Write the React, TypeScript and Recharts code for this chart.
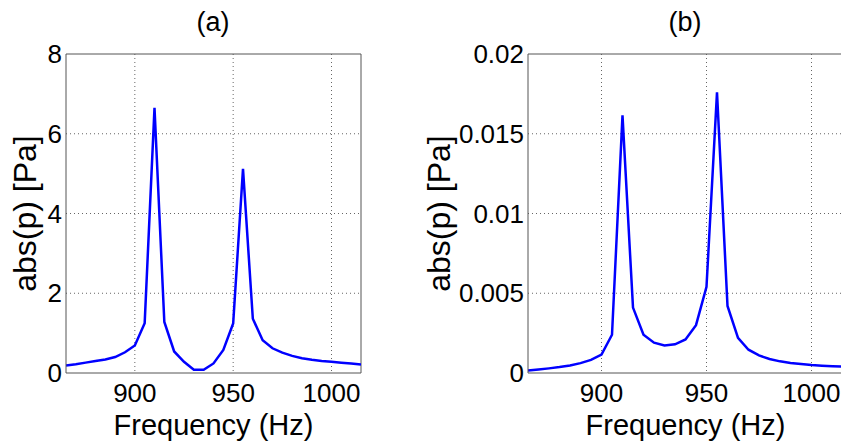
import { LineChart, Line, XAxis, YAxis, CartesianGrid, ReferenceLine } from "recharts";

const freq = [
  865, 870, 875, 880, 885, 890, 895, 900, 905, 910, 915, 920, 925, 930, 935, 940,
  945, 950, 955, 960, 965, 970, 975, 980, 985, 990, 995, 1000, 1005, 1010, 1015,
];

// (a) abs(p) [Pa]
const pA = [
  0.19, 0.22, 0.26, 0.3, 0.34, 0.4, 0.52, 0.69, 1.25, 6.65, 1.28, 0.54, 0.28, 0.08,
  0.08, 0.24, 0.58, 1.24, 5.12, 1.36, 0.82, 0.62, 0.51, 0.43, 0.37, 0.33, 0.3, 0.28,
  0.26, 0.24, 0.21,
];

// (b) abs(p) [Pa]
const pB = [
  0.00015, 0.00022, 0.00029, 0.00037, 0.00047, 0.00062, 0.00082, 0.00115, 0.0024,
  0.01615, 0.0041, 0.0024, 0.0019, 0.00173, 0.0018, 0.0021, 0.003, 0.0054, 0.0176,
  0.0042, 0.0022, 0.00146, 0.0011, 0.00088, 0.00073, 0.00063, 0.00056, 0.0005,
  0.00046, 0.00043, 0.0004,
];

const xTicks = [900, 950, 1000];
const xMin = 865;
const xMax = 1015;
const yTicksA = [0, 2, 4, 6, 8];
const yTicksB = [0, 0.005, 0.01, 0.015, 0.02];

const dataA = freq.map((f, i) => ({ f, p: pA[i] }));
const dataB = freq.map((f, i) => ({ f, p: pB[i] }));

const font = "Liberation Sans, Arial, sans-serif";
const axisColor = "#555";
const tickStyle = { fill: "#000", fontSize: 26, fontFamily: font };
const xLabelStyle = { fill: "#000", fontSize: 29, fontFamily: font, textAnchor: "middle" as const };
const yLabelStyle = { fill: "#000", fontSize: 32, fontFamily: font, textAnchor: "middle" as const };

type PanelProps = {
  data: { f: number; p: number }[];
  yTicks: number[];
  yMax: number;
  yWidth: number;
  width: number;
  right: number;
  yLabelX: number;
};

const Panel = ({ data, yTicks, yMax, yWidth, width, right, yLabelX }: PanelProps) => (
  <LineChart
    width={width}
    height={441}
    data={data}
    margin={{ top: 54, right, bottom: 0, left: 0 }}
  >
    <CartesianGrid
      stroke="#666"
      strokeDasharray="1 3"
      horizontalValues={yTicks.slice(1, -1)}
      verticalValues={xTicks}
    />
    <XAxis
      dataKey="f"
      type="number"
      domain={[xMin, xMax]}
      ticks={xTicks}
      allowDataOverflow
      height={68}
      stroke={axisColor}
      tickLine={false}
      tickSize={0}
      tickMargin={11}
      tick={tickStyle}
      label={{ value: "Frequency (Hz)", position: "insideBottom", offset: 6, style: xLabelStyle }}
    />
    <YAxis
      type="number"
      domain={[0, yMax]}
      ticks={yTicks}
      width={yWidth}
      stroke={axisColor}
      tickLine={false}
      tickSize={0}
      tickMargin={4}
      tick={tickStyle}
      label={{ value: "abs(p) [Pa]", angle: -90, position: "insideLeft", offset: yLabelX, style: yLabelStyle }}
    />
    {/* box: top and right edges */}
    <ReferenceLine y={yMax} stroke={axisColor} strokeWidth={1} />
    <ReferenceLine x={xMax} stroke={axisColor} strokeWidth={1} />
    <Line
      type="linear"
      dataKey="p"
      stroke="#0000ff"
      strokeWidth={2.5}
      dot={false}
      isAnimationActive={false}
    />
  </LineChart>
);

const titleStyle = {
  position: "absolute" as const,
  top: 7,
  fontFamily: font,
  fontSize: 27,
  textAlign: "center" as const,
  width: 100,
};

export default function App() {
  return (
    <div
      style={{
        position: "absolute",
        left: 0,
        top: 0,
        width: 841,
        height: 441,
        overflow: "hidden",
        background: "#fff",
      }}
    >
      <div style={{ position: "absolute", left: 0, top: 0 }}>
        <Panel data={dataA} yTicks={yTicksA} yMax={8} yWidth={66} width={420} right={59} yLabelX={25} />
      </div>
      <div style={{ position: "absolute", left: 420, top: 0 }}>
        <Panel data={dataB} yTicks={yTicksB} yMax={0.02} yWidth={108} width={423} right={0} yLabelX={19} />
      </div>
      <div style={{ ...titleStyle, left: 163 }}>(a)</div>
      <div style={{ ...titleStyle, left: 635 }}>(b)</div>
    </div>
  );
}
